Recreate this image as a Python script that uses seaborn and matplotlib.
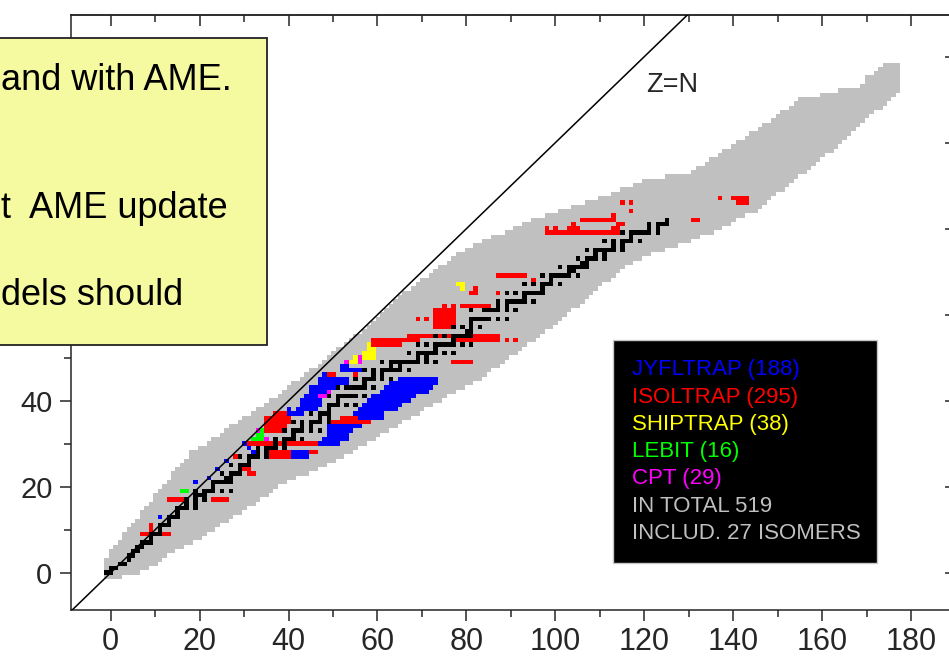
import matplotlib
matplotlib.use("Agg")
import matplotlib.pyplot as plt
from matplotlib.colors import ListedColormap, BoundaryNorm
from matplotlib.patches import Rectangle
from matplotlib.ticker import MultipleLocator, NullFormatter, FuncFormatter
import numpy as np
import seaborn as sns

sns.set_style("ticks")
plt.rcParams["font.family"] = ["Liberation Sans", "DejaVu Sans"]

# Predicted nuclides: for each Z row (0, 1, 2, ...) the first and last N
band_n_first = [0, 0, 0, 0, 0, 1, 1, 2, 3, 4,
                4, 5, 6, 7, 8, 8, 9, 10, 11, 11,
                12, 13, 14, 15, 15, 16, 17, 18, 19, 19,
                21, 23, 24, 26, 27, 28, 30, 31, 33, 34,
                36, 37, 39, 40, 41, 42, 44, 45, 46, 48,
                49, 50, 51, 52, 54, 55, 56, 58, 59, 60,
                61, 62, 63, 64, 65, 66, 67, 69, 70, 71,
                73, 74, 75, 77, 78, 79, 81, 83, 85, 87,
                90, 92, 94, 96, 99, 102, 105, 108, 111, 114,
                116, 119, 121, 126, 132, 133, 135, 136, 138, 139,
                141, 142, 144, 145, 147, 148, 150, 151, 152, 154,
                155, 156, 161, 165, 170, 171, 171, 173, 174, 175]
band_n_last = [3, 7, 9, 11, 12, 13, 15, 17, 19, 21,
               22, 24, 25, 27, 28, 30, 31, 33, 34, 36,
               37, 38, 40, 42, 45, 47, 49, 51, 53, 55,
               56, 58, 60, 61, 63, 65, 66, 68, 70, 71,
               73, 75, 76, 78, 80, 82, 84, 85, 86, 88,
               89, 90, 92, 93, 94, 96, 97, 98, 100, 101,
               102, 103, 104, 106, 107, 108, 109, 110, 111, 113,
               114, 115, 116, 118, 120, 122, 125, 128, 131, 133,
               136, 138, 140, 141, 143, 146, 147, 148, 149, 150,
               152, 153, 154, 155, 157, 158, 159, 160, 161, 163,
               164, 165, 166, 167, 168, 169, 170, 171, 172, 174,
               175, 176, 177, 178, 178, 178, 178, 178, 178, 178]

# Stable nuclides: Z -> neutron numbers
stable_n = {
    1: [0, 1], 2: [1, 2], 3: [3, 4], 4: [5], 5: [5, 6], 6: [6, 7], 7: [7, 8],
    8: [8, 9, 10], 9: [10], 10: [10, 11, 12], 11: [12], 12: [12, 13, 14],
    13: [14], 14: [14, 15, 16], 15: [16], 16: [16, 17, 18, 20], 17: [18, 20],
    18: [18, 20, 22], 19: [20, 21, 22], 20: [20, 22, 23, 24, 26, 28], 21: [24],
    22: [24, 25, 26, 27, 28], 23: [27, 28], 24: [26, 28, 29, 30], 25: [30],
    26: [28, 30, 31, 32], 27: [32], 28: [30, 32, 33, 34, 36], 29: [34, 36],
    30: [34, 36, 37, 38, 40], 31: [38, 40], 32: [38, 40, 41, 42, 44], 33: [42],
    34: [40, 42, 43, 44, 46, 48], 35: [44, 46], 36: [42, 44, 46, 47, 48, 50],
    37: [48, 50], 38: [46, 48, 49, 50], 39: [50], 40: [50, 51, 52, 54, 56],
    41: [52], 42: [50, 52, 53, 54, 55, 56, 58], 44: [52, 54, 55, 56, 57, 58, 60],
    45: [58], 46: [56, 58, 59, 60, 62, 64], 47: [60, 62],
    48: [58, 60, 62, 63, 64, 65, 66, 68], 49: [64, 66],
    50: [62, 64, 65, 66, 67, 68, 69, 70, 72, 74], 51: [70, 72],
    52: [68, 70, 71, 72, 73, 74, 76, 78], 53: [74],
    54: [70, 72, 74, 75, 76, 77, 78, 80, 82], 55: [78],
    56: [74, 76, 78, 79, 80, 81, 82], 57: [81, 82], 58: [78, 80, 82, 84],
    59: [82], 60: [82, 83, 84, 85, 86, 88, 90], 62: [82, 85, 86, 87, 88, 90, 92],
    63: [88, 90], 64: [88, 90, 91, 92, 93, 94, 96], 65: [94],
    66: [90, 92, 94, 95, 96, 97, 98], 67: [98], 68: [94, 96, 98, 99, 100, 102],
    69: [100], 70: [98, 100, 101, 102, 103, 104, 106], 71: [104, 105],
    72: [102, 104, 105, 106, 107, 108], 73: [107, 108],
    74: [106, 108, 109, 110, 112], 75: [110, 112],
    76: [108, 110, 111, 112, 113, 114, 116], 77: [114, 116],
    78: [112, 114, 116, 117, 118, 120], 79: [118],
    80: [116, 118, 119, 120, 121, 122, 124], 81: [122, 124],
    82: [122, 124, 125, 126], 83: [126],
}

# Measured masses per trap: (Z, first N, last N)
isoltrap = [
    (10, 8, 14), (11, 10, 10), (12, 10, 10), (18, 14, 17), (18, 24, 27),
    (28, 29, 29), (25, 31, 32), (24, 32, 33),
    (34, 36, 39), (35, 36, 40), (36, 36, 41), (37, 36, 41), (38, 38, 43),
    (31, 32, 47), (29, 37, 47), (28, 37, 41), (36, 50, 59), (37, 53, 56),
    (47, 50, 51), (47, 56, 56),
    (54, 60, 66), (55, 60, 70), (55, 79, 88), (56, 68, 88), (55, 90, 90), (55, 92, 92),
    (58, 74, 78), (59, 74, 78), (60, 74, 78), (61, 74, 78), (62, 74, 78),
    (60, 70, 70), (60, 72, 72), (63, 76, 76), (63, 78, 78), (63, 80, 86),
    (50, 78, 82), (66, 82, 83), (67, 83, 83), (66, 88, 88),
    (70, 88, 94), (69, 96, 96),
    (80, 99, 115), (81, 99, 99), (81, 101, 101), (81, 104, 106), (81, 114, 115),
    (82, 105, 105), (82, 115, 116), (83, 107, 114), (84, 114, 114),
    (87, 116, 116), (87, 118, 118), (85, 118, 118),
    (83, 132, 133), (88, 138, 138), (88, 141, 144), (87, 142, 144),
]
jyfltrap = [
    (14, 12, 12), (22, 20, 20), (23, 23, 23), (25, 25, 25), (27, 27, 27),
    (31, 31, 31), (30, 32, 32), (29, 33, 33), (39, 41, 41),
    (38, 41, 44), (39, 43, 47), (40, 44, 48), (41, 44, 48), (42, 45, 47),
    (43, 46, 49), (44, 46, 52), (45, 48, 54), (46, 48, 54), (47, 49, 49),
    (48, 53, 57), (49, 53, 54),
    (31, 48, 52), (32, 49, 54), (33, 50, 54), (34, 50, 55), (35, 50, 57),
    (37, 57, 62), (38, 56, 62), (39, 57, 65), (40, 58, 66), (41, 59, 68),
    (42, 60, 69), (43, 62, 72), (44, 63, 73), (45, 64, 74), (46, 66, 74),
    (29, 42, 45), (28, 42, 45),
]
shiptrap = [
    (50, 55, 56), (51, 56, 56), (51, 58, 60), (52, 58, 60), (53, 59, 60),
    (54, 59, 59), (68, 79, 80), (67, 80, 80),
]
lebit = [(34, 35, 35), (33, 34, 35), (32, 33, 35), (20, 17, 18)]
cpt = [
    (34, 34, 34), (32, 36, 36), (42, 48, 49), (43, 50, 50),
    (50, 54, 54), (50, 57, 57), (51, 57, 57),
]

trap_names = ["JYFLTRAP", "ISOLTRAP", "SHIPTRAP", "LEBIT", "CPT"]
trap_counts = [188, 295, 38, 16, 29]
trap_colors = ["#0000FF", "#FF0000", "#FFFF00", "#00FF00", "#FF00FF"]
total_measured = 519
isomer_count = 27

# ---- build the cell grid --------------------------------------------------
N_MIN, N_MAX = -3, 185
Z_MIN, Z_MAX = -3, 125
grid = np.zeros((Z_MAX - Z_MIN, N_MAX - N_MIN), dtype=int)


def put(z, n0, n1, code):
    grid[z - Z_MIN, n0 - N_MIN:n1 - N_MIN + 1] = code


for z, (a, b) in enumerate(zip(band_n_first, band_n_last)):
    put(z, a, b, 1)
for code, runs in [(2, isoltrap), (3, jyfltrap), (4, shiptrap), (5, cpt), (6, lebit)]:
    for z, a, b in runs:
        put(z, a, b, code)
for z, ns in stable_n.items():
    for n in ns:
        put(z, n, n, 7)

cell_colors = ["#C0C0C0", "#FF0000", "#0000FF", "#FFFF00", "#FF00FF", "#00FF00", "#000000"]
cmap = ListedColormap(cell_colors)
norm = BoundaryNorm(np.arange(0.5, 8.5, 1), cmap.N)

# ---- figure --------------------------------------------------------------
W, H = 949, 661
fig = plt.figure(figsize=(W / 100, H / 100), dpi=100)
ax = fig.add_axes([71 / W, 51 / H, 885 / W, 595 / H])

x0, y0 = -8.93, -8.67
ax.imshow(np.ma.masked_equal(grid, 0), cmap=cmap, norm=norm, origin="lower",
          aspect="auto", interpolation="nearest",
          extent=[N_MIN - 1.5, N_MAX - 1.5, Z_MIN - 1.5, Z_MAX - 1.5], zorder=1)

sns.lineplot(x=[x0, 140], y=[x0, 140], color="black", linewidth=1.1, ax=ax, zorder=3)
ax.text(126.2, 113.4, "Z=N", fontsize=19.5, ha="center", va="center", zorder=4)

ax.set_xlim(x0, x0 + 885 / 4.446)
ax.set_ylim(y0, y0 + 595 / 4.3)

for axis in (ax.xaxis, ax.yaxis):
    axis.set_major_locator(MultipleLocator(20))
    axis.set_minor_locator(MultipleLocator(10))
# the upper y labels sit behind the note box, so only the low ones are written
ax.yaxis.set_major_formatter(FuncFormatter(lambda v, p: f"{v:.0f}" if v < 50 else ""))
ax.tick_params(which="major", direction="out", length=7.9, width=1.1)
ax.tick_params(which="minor", direction="out", length=4.7, width=1.1)
ax.tick_params(axis="x", labelsize=22, pad=4)
ax.tick_params(axis="y", labelsize=21, pad=5.5)
for s in ax.spines.values():
    s.set_linewidth(1.1)

top = ax.secondary_xaxis("top")
right = ax.secondary_yaxis("right")
for sec, axis in ((top, top.xaxis), (right, right.yaxis)):
    axis.set_major_locator(MultipleLocator(20))
    axis.set_minor_locator(MultipleLocator(10))
    axis.set_major_formatter(NullFormatter())
    sec.tick_params(which="major", direction="in", length=7.9, width=1.1)
    sec.tick_params(which="minor", direction="in", length=4.7, width=1.1)
    for s in sec.spines.values():
        s.set_linewidth(1.1)

# ---- note box on the left ------------------------------------------------
fig.add_artist(Rectangle((-0.02, 1 - 345 / H), 0.02 + 267 / W, (345 - 38) / H,
                         transform=fig.transFigure, facecolor="#F5FAA0",
                         edgecolor="#222222", linewidth=1.3, zorder=5))
note_lines = ["and with AME.", "t  AME update", "dels should"]
note_y = [81, 209, 296]
for txt, yy in zip(note_lines, note_y):
    fig.text(1 / W, 1 - yy / H, txt, fontsize=26, ha="left", va="center",
             color="black", zorder=6)

# ---- trap summary box ----------------------------------------------------
fig.add_artist(Rectangle((613 / W, 1 - 563 / H), (877 - 613) / W, (563 - 340) / H,
                         transform=fig.transFigure, facecolor="black",
                         edgecolor="#C8C8C8", linewidth=1.0, zorder=5))
lines = [f"{n} ({c})" for n, c in zip(trap_names, trap_counts)]
lines += [f"IN TOTAL {total_measured}", f"INCLUD. {isomer_count} ISOMERS"]
colors = trap_colors + ["#C0C0C0", "#C0C0C0"]
for i, (txt, col) in enumerate(zip(lines, colors)):
    fig.text(632 / W, 1 - (370 + i * 27.2) / H, txt, fontsize=16, color=col,
             ha="left", va="center", zorder=6)

fig.savefig("out.png", dpi=100)
